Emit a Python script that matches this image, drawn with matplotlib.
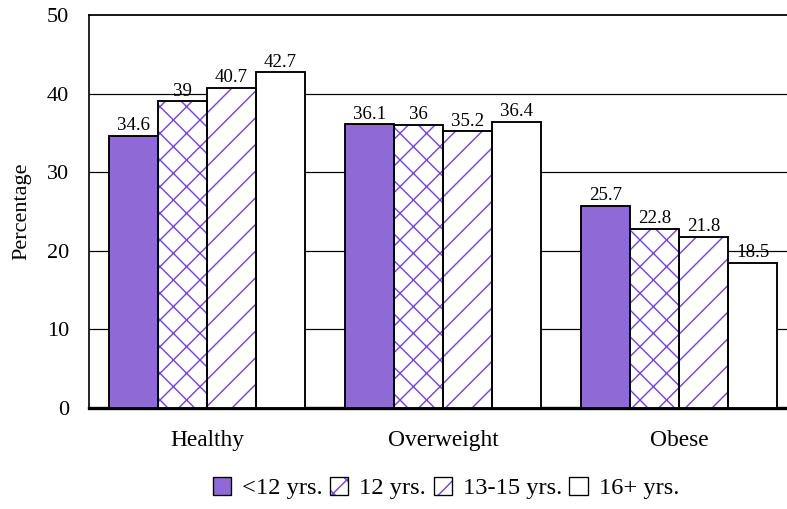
import matplotlib
matplotlib.use("Agg")
import matplotlib.pyplot as plt
import numpy as np
from matplotlib.patches import Patch
from matplotlib.legend_handler import HandlerTuple

categories = ["Healthy", "Overweight", "Obese"]
series_names = ["<12 yrs.", "12 yrs.", "13-15 yrs.", "16+ yrs."]
less_12 = [34.6, 36.1, 25.7]
yrs_12 = [39, 36, 22.8]
yrs_13_15 = [40.7, 35.2, 21.8]
yrs_16_plus = [42.7, 36.4, 18.5]
y_ticks = [0, 10, 20, 30, 40, 50]

series = [less_12, yrs_12, yrs_13_15, yrs_16_plus]
purple = "#7448d8"
# (facecolor, hatch) per series
styles = [("#8f6ad6", None), ("white", "x"), ("white", "/"), ("white", None)]

plt.rcParams["font.family"] = ["Liberation Serif", "DejaVu Serif"]
plt.rcParams["hatch.linewidth"] = 1.3

DPI = 80
fig = plt.figure(figsize=(787 / DPI, 509 / DPI), dpi=DPI)
ax = fig.add_axes([89 / 787, 101 / 509, 708 / 787, 393 / 509])

x = np.arange(len(categories))
width = 0.2076
handles = []
for i, (vals, (fc, hatch)) in enumerate(zip(series, styles)):
    pos = x + (i - 1.5) * width
    # fill + purple hatch layer, then black outline on top
    ax.bar(pos, vals, width, facecolor=fc, edgecolor=purple, hatch=hatch, linewidth=0, zorder=3)
    bars = ax.bar(pos, vals, width, facecolor="none", edgecolor="black", linewidth=1.7, zorder=4)
    for rect, v in zip(bars, vals):
        ax.annotate(f"{v:g}", (rect.get_x() + rect.get_width() / 2, v),
                    xytext=(0, 1.5), textcoords="offset points",
                    ha="center", va="bottom", fontsize=17, zorder=5)
    handles.append((Patch(facecolor=fc, edgecolor=purple, hatch=hatch, linewidth=0),
                    Patch(facecolor="none", edgecolor="black", linewidth=1.2)))

ax.set_xlim(-0.5, 2.5)
ax.set_ylim(0, 50)
ax.set_yticks(y_ticks)
ax.set_xticks(x)
ax.set_xticklabels(categories)
ax.tick_params(axis="y", length=0, pad=18, labelsize=20)
ax.tick_params(axis="x", length=0, pad=20, labelsize=21)
for t in y_ticks[1:-1]:
    ax.axhline(t, color="black", linewidth=1.1, zorder=1)

ax.spines["bottom"].set_linewidth(3)
ax.spines["left"].set_linewidth(1.5)
ax.spines["top"].set_linewidth(1.6)
ax.spines["right"].set_linewidth(1.5)

fig.text(22 / 787, 1 - 211 / 509, "Percentage", rotation=90, ha="center", va="center", fontsize=20)

fig.legend(handles, series_names, loc="center", bbox_to_anchor=(446 / 787, 21 / 509),
           ncol=4, frameon=False, fontsize=22, handlelength=0.75, handleheight=0.75,
           handletextpad=0.45, columnspacing=0.3, borderpad=0,
           handler_map={tuple: HandlerTuple(ndivide=1, pad=0)})

fig.savefig("out.png", dpi=DPI)
